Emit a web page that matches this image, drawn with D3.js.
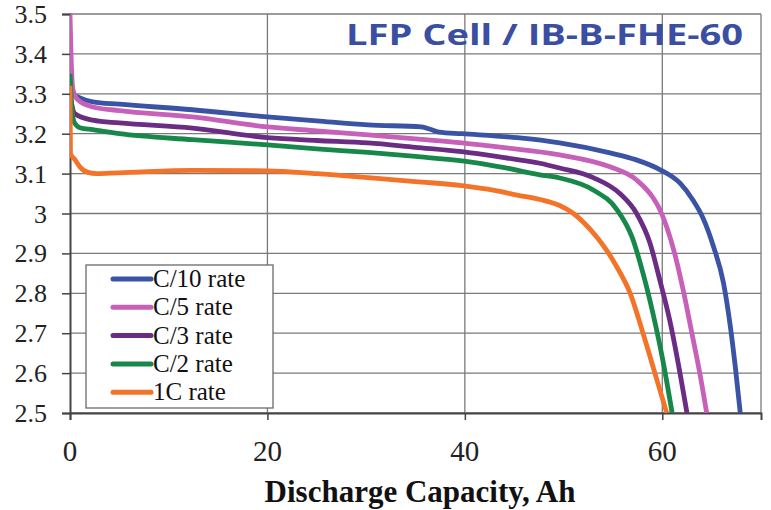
<!DOCTYPE html>
<html>
<head>
<meta charset="utf-8">
<script src="https://cdn.jsdelivr.net/npm/d3@7"></script>
<style>
  body { margin: 0; background: #fff; }
  svg { display: block; }
  text.serif { font-family: "Liberation Serif", "Times New Roman", serif; }
</style>
</head>
<body>
<script>
// discharge curves: [capacity Ah, voltage V]
const seriesNames = ["C/10 rate", "C/5 rate", "C/3 rate", "C/2 rate", "1C rate"];
const seriesColors = ["#3a53a4", "#c660b8", "#6b2c84", "#17884a", "#f37428"];

const c10 = [[0,3.33],[0.3,3.30],[1,3.29],[2.3,3.28],[5,3.274],[12.4,3.26],[20,3.242],[25,3.232],[30.2,3.222],[35.6,3.217],[36.5,3.211],[37.4,3.204],[39.7,3.200],[45.3,3.190],[49.6,3.177],[54.7,3.152],[57.3,3.135],[59.75,3.110],[61.8,3.076],[63.1,3.034],[64.1,2.99],[65.2,2.916],[66.2,2.826],[66.9,2.716],[67.4,2.615],[67.9,2.5]];
const c5 = [[0,3.5],[0.1,3.40],[0.3,3.31],[0.8,3.285],[2.3,3.267],[5,3.258],[12.4,3.242],[20,3.217],[25,3.207],[30.2,3.197],[35,3.187],[39.7,3.177],[44,3.165],[49.6,3.147],[54.7,3.117],[57.4,3.084],[59.05,3.04],[59.75,3.01],[60.45,2.966],[61.25,2.90],[62.1,2.81],[63.0,2.70],[63.8,2.60],[64.5,2.5]];
const c3 = [[0,3.30],[0.2,3.27],[0.5,3.25],[2.3,3.234],[5,3.227],[12.4,3.214],[20,3.19],[25,3.183],[30.2,3.177],[35,3.166],[39.7,3.155],[44,3.14],[47.6,3.126],[49.6,3.114],[53.0,3.09],[55.7,3.05],[57.4,3.0],[58.75,2.926],[59.75,2.833],[60.75,2.733],[61.55,2.633],[62.5,2.5]];
const c2 = [[0,3.35],[0.15,3.28],[0.4,3.23],[1,3.215],[2.3,3.21],[5,3.20],[12.4,3.185],[20,3.172],[25,3.162],[30.2,3.153],[35,3.143],[39.7,3.132],[44,3.115],[47.6,3.097],[49.6,3.089],[53.0,3.059],[55.4,3.01],[56.95,2.94],[58.05,2.85],[59.05,2.75],[60.05,2.633],[61.0,2.5]];
const c1 = [[0,3.32],[0.02,3.25],[0.05,3.15],[0.5,3.135],[1,3.117],[1.8,3.103],[2.7,3.10],[6,3.103],[12.4,3.108],[20,3.107],[25,3.10],[30.2,3.09],[35,3.08],[39.7,3.07],[43,3.058],[45.3,3.046],[47.6,3.035],[49.6,3.02],[51.0,3.0],[52.7,2.96],[54.3,2.91],[55.4,2.866],[56.75,2.80],[58.05,2.70],[59.25,2.60],[60.45,2.5]];
const allSeries = [c10, c5, c3, c2, c1];

const xTicks = [0, 20, 40, 60];
const yTicks = [2.5, 2.6, 2.7, 2.8, 2.9, 3, 3.1, 3.2, 3.3, 3.4, 3.5];
const yTickLabels = ["2.5", "2.6", "2.7", "2.8", "2.9", "3", "3.1", "3.2", "3.3", "3.4", "3.5"];

const width = 771, height = 510;
const margin = { top: 14, right: 10, bottom: 97, left: 70 };

const x = d3.scaleLinear().domain([0, 70]).range([margin.left, width - margin.right]);
const y = d3.scaleLinear().domain([2.5, 3.5]).range([height - margin.bottom, margin.top]);

const svg = d3.select("body").append("svg")
    .attr("width", width)
    .attr("height", height);

svg.append("defs").append("clipPath").attr("id", "plot")
  .append("rect")
    .attr("x", x(0)).attr("y", y(3.5))
    .attr("width", x(70) - x(0)).attr("height", y(2.5) - y(3.5));

// grid
svg.append("g")
  .selectAll("line")
  .data(yTicks)
  .join("line")
    .attr("x1", x(0)).attr("x2", x(70))
    .attr("y1", d => y(d)).attr("y2", d => y(d))
    .attr("stroke", "#7a7a7a")
    .attr("stroke-width", 1.3);

svg.append("g")
  .selectAll("line")
  .data([20, 40, 60, 70])
  .join("line")
    .attr("x1", d => x(d)).attr("x2", d => x(d))
    .attr("y1", y(3.5)).attr("y2", y(2.5))
    .attr("stroke", "#7a7a7a")
    .attr("stroke-width", 1.3);

// axes (tick marks from d3, labels drawn separately)
const xAxis = d3.axisBottom(x).tickValues(xTicks).tickSize(7).tickFormat("");
const yAxis = d3.axisLeft(y).tickValues(yTicks).tickSize(8).tickFormat("");

const gx = svg.append("g")
    .attr("transform", `translate(0,${y(2.5)})`)
    .call(xAxis);
const gy = svg.append("g")
    .attr("transform", `translate(${x(0)},0)`)
    .call(yAxis);

for (const g of [gx, gy]) {
  g.select(".domain").attr("stroke", "#444").attr("stroke-width", 2);
  g.selectAll(".tick line").attr("stroke", "#444").attr("stroke-width", 1.5);
}

svg.append("g")
  .selectAll("text")
  .data(xTicks)
  .join("text")
    .attr("x", d => x(d))
    .attr("y", y(2.5) + 48)
    .attr("text-anchor", "middle")
    .attr("fill", "#222")
    .attr("font-family", "Liberation Serif")
    .attr("font-size", 29)
    .text(d => String(d));

svg.append("g")
  .selectAll("text")
  .data(yTicks)
  .join("text")
    .attr("x", x(0) - 23)
    .attr("y", d => y(d) + 9)
    .attr("text-anchor", "end")
    .attr("fill", "#222")
    .attr("font-family", "Liberation Serif")
    .attr("font-size", 26)
    .text((d, i) => yTickLabels[i]);

// curves
const line = d3.line()
    .x(d => x(d[0]))
    .y(d => y(d[1]))
    .curve(d3.curveMonotoneX);

svg.append("g")
    .attr("clip-path", "url(#plot)")
  .selectAll("path")
  .data(allSeries)
  .join("path")
    .attr("fill", "none")
    .attr("stroke", (d, i) => seriesColors[i])
    .attr("stroke-width", 4.8)
    .attr("stroke-linejoin", "round")
    .attr("d", line);

// title
svg.append("text")
    .attr("x", 743)
    .attr("y", 45)
    .attr("text-anchor", "end")
    .attr("fill", "#3a4ea2")
    .attr("textLength", 397)
    .attr("lengthAdjust", "spacingAndGlyphs")
    .style("font-family", "'Open Sans', 'DejaVu Sans', sans-serif")
    .style("font-weight", "bold")
    .style("font-size", "29px")
    .text("LFP Cell / IB-B-FHE-60");

// x axis title
svg.append("text")
    .attr("class", "serif")
    .attr("x", 420)
    .attr("y", 502)
    .attr("text-anchor", "middle")
    .attr("fill", "#111")
    .style("font-weight", "bold")
    .style("font-size", "31px")
    .text("Discharge Capacity, Ah");

// legend
const legend = svg.append("g");
legend.append("rect")
    .attr("x", 86).attr("y", 265)
    .attr("width", 187).attr("height", 143)
    .attr("fill", "#fff")
    .attr("stroke", "#6a6a6a")
    .attr("stroke-width", 1.3);

const rows = legend.selectAll("g.item")
  .data(seriesNames)
  .join("g")
    .attr("class", "item")
    .attr("transform", (d, i) => `translate(0,${279 + i * 28.3})`);

rows.append("line")
    .attr("x1", 113).attr("x2", 151)
    .attr("stroke", (d, i) => seriesColors[i])
    .attr("stroke-width", 5)
    .attr("stroke-linecap", "round");

rows.append("text")
    .attr("class", "serif")
    .attr("x", 153)
    .attr("y", 8)
    .attr("fill", "#111")
    .style("font-size", "25px")
    .text(d => d);
</script>
</body>
</html>
